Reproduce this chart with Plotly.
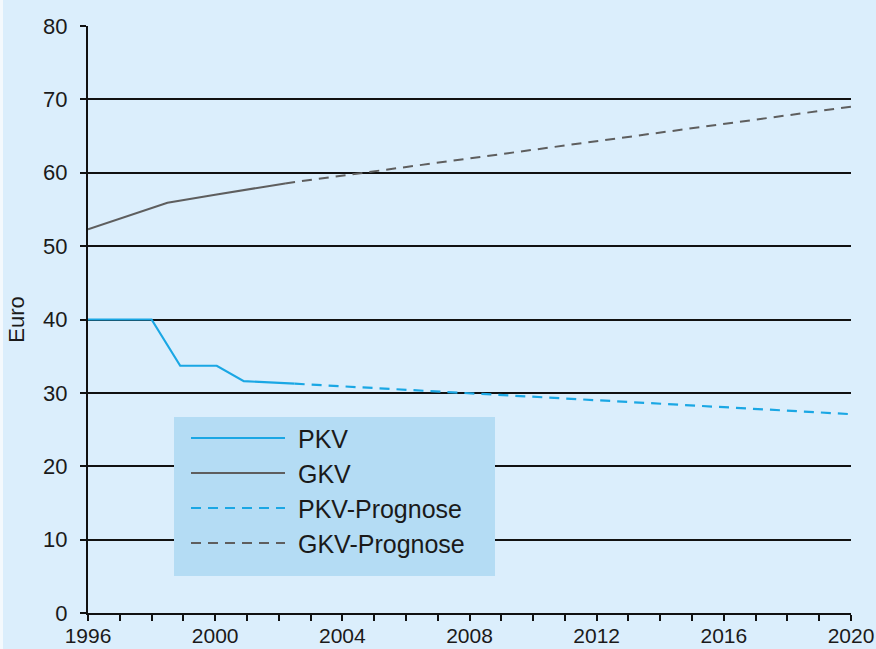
import plotly.graph_objects as go

# Data
pkv_years = [1996, 1998.0, 1998.9, 2000.05, 2000.9, 2002.5]
pkv_values = [40.0, 40.0, 33.7, 33.7, 31.6, 31.25]
pkv_prog_years = [2002.5, 2020]
pkv_prog_values = [31.25, 27.1]

gkv_years = [1996, 1998.5, 2000, 2002.2]
gkv_values = [52.3, 55.9, 57.0, 58.55]
gkv_prog_years = [2002.2, 2020]
gkv_prog_values = [58.55, 69.0]

x_ticks = [1996, 2000, 2004, 2008, 2012, 2016, 2020]
y_ticks = [0, 10, 20, 30, 40, 50, 60, 70, 80]

legend_names = ["PKV", "GKV", "PKV-Prognose", "GKV-Prognose"]

PKV_COLOR = "#1aa7e4"
GKV_COLOR = "#5e5e5e"
BG = "#dbeefc"
LEG_BG = "#b4dcf4"
DASH = "10px,7px"

fig = go.Figure()
fig.add_trace(go.Scatter(x=pkv_years, y=pkv_values, mode="lines", name=legend_names[0],
                         line=dict(color=PKV_COLOR, width=2.2)))
fig.add_trace(go.Scatter(x=gkv_years, y=gkv_values, mode="lines", name=legend_names[1],
                         line=dict(color=GKV_COLOR, width=2)))
fig.add_trace(go.Scatter(x=pkv_prog_years, y=pkv_prog_values, mode="lines", name=legend_names[2],
                         line=dict(color=PKV_COLOR, width=2.2, dash=DASH)))
fig.add_trace(go.Scatter(x=gkv_prog_years, y=gkv_prog_values, mode="lines", name=legend_names[3],
                         line=dict(color=GKV_COLOR, width=2, dash=DASH)))

W, H = 876, 649
L, R, T, B = 88, 25, 26, 36
pw, ph = W - L - R, H - T - B

def px(x):
    return (x - L) / pw

def py(y):
    return (H - B - y) / ph

shapes = [
    dict(type="rect", xref="paper", yref="paper", x0=px(0), x1=px(3), y0=py(H), y1=py(0),
         fillcolor="#f4f9fd", line=dict(width=0), layer="below"),
    dict(type="rect", xref="paper", yref="paper", x0=px(174), x1=px(495), y0=py(576), y1=py(417),
         fillcolor=LEG_BG, line=dict(width=0), layer="above"),
]
annotations = []
styles = [(PKV_COLOR, "solid"), (GKV_COLOR, "solid"), (PKV_COLOR, "dash"), (GKV_COLOR, "dash")]
for i, (name, (col, dash)) in enumerate(zip(legend_names, styles)):
    yy = 438 + i * 35
    shapes.append(dict(type="line", xref="paper", yref="paper", x0=px(191), x1=px(285), y0=py(yy), y1=py(yy),
                       line=dict(color=col, width=2, dash=DASH if dash == "dash" else "solid"), layer="above"))
    annotations.append(dict(xref="paper", yref="paper", x=px(296), y=py(yy + 1), text=name, showarrow=False,
                            xanchor="left", yanchor="middle", font=dict(size=25, color="#1a1a1a")))

fig.update_layout(
    template="none",
    width=W, height=H, autosize=False,
    margin=dict(l=L, r=R, t=T, b=B, pad=0, autoexpand=False),
    paper_bgcolor=BG, plot_bgcolor=BG,
    showlegend=False,
    font=dict(family="Liberation Sans, Arial, sans-serif", size=22, color="#1a1a1a"),
    shapes=shapes, annotations=annotations,
    xaxis=dict(range=[1996, 2020], tickvals=x_ticks, ticks="outside", ticklen=6, tickwidth=2,
               tickcolor="#111", showline=True, linecolor="#111", linewidth=2, showgrid=False,
               zeroline=False, tickfont=dict(size=21), ticklabelstandoff=-3, automargin=False,
               minor=dict(dtick=1, ticks="outside", ticklen=6, tickwidth=2, tickcolor="#111", showgrid=False)),
    yaxis=dict(range=[0, 80], tickvals=y_ticks, ticks="outside", ticklen=6, tickwidth=2,
               tickcolor="#111", showline=True, linecolor="#111", linewidth=2,
               showgrid=True, gridcolor="#111", gridwidth=2, zeroline=False,
               tickfont=dict(size=22), ticklabelstandoff=8, automargin=False,
               title=dict(text="Euro", standoff=12, font=dict(size=22))),
)

fig.write_html("out.html", config={"responsive": False, "displayModeBar": False},
               post_script="document.body.style.margin='0';document.body.style.overflow='hidden';")
